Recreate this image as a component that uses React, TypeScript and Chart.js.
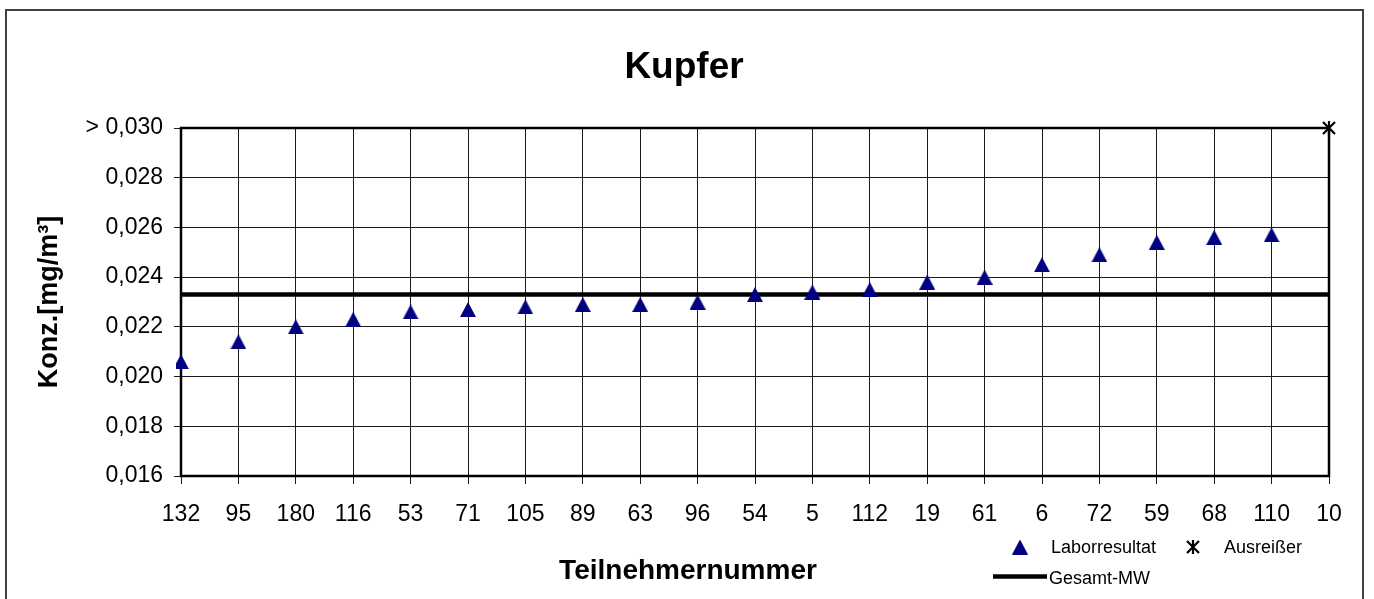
import React, { useEffect, useRef } from 'react';
import { Chart, registerables } from 'chart.js';

Chart.register(...registerables);

const categories = ['132', '95', '180', '116', '53', '71', '105', '89', '63', '96', '54', '5', '112', '19', '61', '6', '72', '59', '68', '110', '10'];
const laborresultat = [0.0206, 0.0214, 0.0220, 0.0223, 0.0226, 0.0227, 0.0228, 0.0229, 0.0229, 0.0230, 0.0233, 0.0234, 0.0235, 0.0238, 0.0240, 0.0245, 0.0249, 0.0254, 0.0256, 0.0257, null];
const ausreisser = [null, null, null, null, null, null, null, null, null, null, null, null, null, null, null, null, null, null, null, null, 0.030];
const gesamtMW = 0.0233;
const yTickLabels = ['0,016', '0,018', '0,020', '0,022', '0,024', '0,026', '0,028', '> 0,030'];
const yMin = 0.016;
const yMax = 0.030;
const yStep = 0.002;

const FONT = "'Liberation Sans', Arial, Helvetica, sans-serif";
const NAVY = '#000080';

function makeTriangle(): HTMLCanvasElement {
  const c = document.createElement('canvas');
  c.width = 16;
  c.height = 15;
  const ctx = c.getContext('2d')!;
  ctx.fillStyle = NAVY;
  ctx.beginPath();
  ctx.moveTo(8, 0);
  ctx.lineTo(16, 15);
  ctx.lineTo(0, 15);
  ctx.closePath();
  ctx.fill();
  return c;
}

function makeAsterisk(): HTMLCanvasElement {
  const c = document.createElement('canvas');
  c.width = 16;
  c.height = 16;
  const ctx = c.getContext('2d')!;
  ctx.strokeStyle = '#000';
  ctx.lineWidth = 2.2;
  ctx.beginPath();
  ctx.moveTo(2, 2);
  ctx.lineTo(14, 14);
  ctx.moveTo(14, 2);
  ctx.lineTo(2, 14);
  ctx.moveTo(8, 1);
  ctx.lineTo(8, 15);
  ctx.stroke();
  return c;
}

export default function App() {
  const ref = useRef<HTMLCanvasElement>(null);

  useEffect(() => {
    if (!ref.current) return;
    Chart.defaults.font.family = FONT;
    Chart.defaults.color = '#000';
    const tri = makeTriangle();
    const ast = makeAsterisk();

    const framePlugin = {
      id: 'framePlugin',
      beforeDraw(chart: any) {
        const ctx = chart.ctx;
        ctx.save();
        ctx.fillStyle = '#fff';
        ctx.fillRect(0, 0, chart.width, chart.height);
        ctx.restore();
      },
      beforeDatasetsDraw(chart: any) {
        const { ctx, chartArea } = chart;
        ctx.save();
        ctx.strokeStyle = '#000';
        ctx.lineWidth = 2.5;
        ctx.strokeRect(chartArea.left, chartArea.top, chartArea.right - chartArea.left, chartArea.bottom - chartArea.top);
        ctx.restore();
      },
      afterDraw(chart: any) {
        const { ctx, chartArea } = chart;
        ctx.save();
        // outer frame
        ctx.strokeStyle = '#404040';
        ctx.lineWidth = 2;
        ctx.strokeRect(6, 10, 1357, 600);
        // title
        ctx.fillStyle = '#000';
        ctx.textAlign = 'center';
        ctx.textBaseline = 'alphabetic';
        ctx.font = `bold 37px ${FONT}`;
        ctx.fillText('Kupfer', 684, 78);
        // x title
        ctx.font = `bold 28px ${FONT}`;
        ctx.fillText('Teilnehmernummer', 688, 579);
        // y title
        ctx.save();
        ctx.translate(56.5, (chartArea.top + chartArea.bottom) / 2);
        ctx.rotate(-Math.PI / 2);
        ctx.font = `bold 27px ${FONT}`;
        ctx.fillText('Konz.[mg/m³]', 0, 0);
        ctx.restore();
        // legend
        const ds = chart.data.datasets;
        ctx.font = `18px ${FONT}`;
        ctx.textAlign = 'left';
        ctx.drawImage(tri, 1020 - tri.width / 2, 547 - tri.height / 2);
        ctx.fillText(ds[0].label, 1051, 553);
        ctx.drawImage(ast, 1193 - ast.width / 2, 547 - ast.height / 2);
        ctx.fillText(ds[1].label, 1224, 553);
        ctx.strokeStyle = ds[2].borderColor;
        ctx.lineWidth = ds[2].borderWidth;
        ctx.beginPath();
        ctx.moveTo(993, 576.5);
        ctx.lineTo(1047, 576.5);
        ctx.stroke();
        ctx.fillText(ds[2].label, 1049, 584);
        ctx.restore();
      },
    };

    const chart = new Chart(ref.current, {
      type: 'line',
      data: {
        labels: categories,
        datasets: [
          {
            label: 'Laborresultat',
            data: laborresultat,
            showLine: false,
            pointStyle: tri,
            borderColor: NAVY,
            backgroundColor: NAVY,
            order: 1,
          },
          {
            label: 'Ausreißer',
            data: ausreisser,
            showLine: false,
            pointStyle: ast,
            borderColor: '#000',
            backgroundColor: '#000',
            clip: false,
            order: 0,
          },
          {
            label: 'Gesamt-MW',
            data: categories.map(() => gesamtMW),
            borderColor: '#000',
            backgroundColor: '#000',
            borderWidth: 4.5,
            pointRadius: 0,
            fill: false,
            order: 3,
          },
        ] as any,
      },
      options: {
        responsive: false,
        animation: false,
        events: [],
        layout: { padding: { left: 0, top: 128, right: 45, bottom: 0 } },
        plugins: {
          legend: { display: false },
          title: { display: false },
          tooltip: { enabled: false },
        },
        scales: {
          x: {
            type: 'category',
            offset: false,
            grid: { color: '#1a1a1a', lineWidth: 1, tickLength: 8, drawOnChartArea: true },
            border: { display: false },
            ticks: { font: { size: 23 }, color: '#000', padding: 17, maxRotation: 0, autoSkip: false },
            afterFit: (s: any) => { s.height = 123; },
          },
          y: {
            min: yMin,
            max: yMax,
            grid: { color: '#1a1a1a', lineWidth: 1, tickLength: 7 },
            border: { display: false },
            ticks: {
              stepSize: yStep,
              font: { size: 23 },
              color: '#000',
              padding: 11,
              callback: (_v: any, i: number) => yTickLabels[i],
            },
            afterFit: (s: any) => { s.width = 181; },
          },
        },
      } as any,
      plugins: [framePlugin],
    });
    return () => chart.destroy();
  }, []);

  return (
    <div style={{ position: 'absolute', left: 0, top: 0, width: 1374, height: 599 }}>
      <canvas ref={ref} width={1374} height={599} style={{ display: 'block', width: 1374, height: 599 }} />
    </div>
  );
}
